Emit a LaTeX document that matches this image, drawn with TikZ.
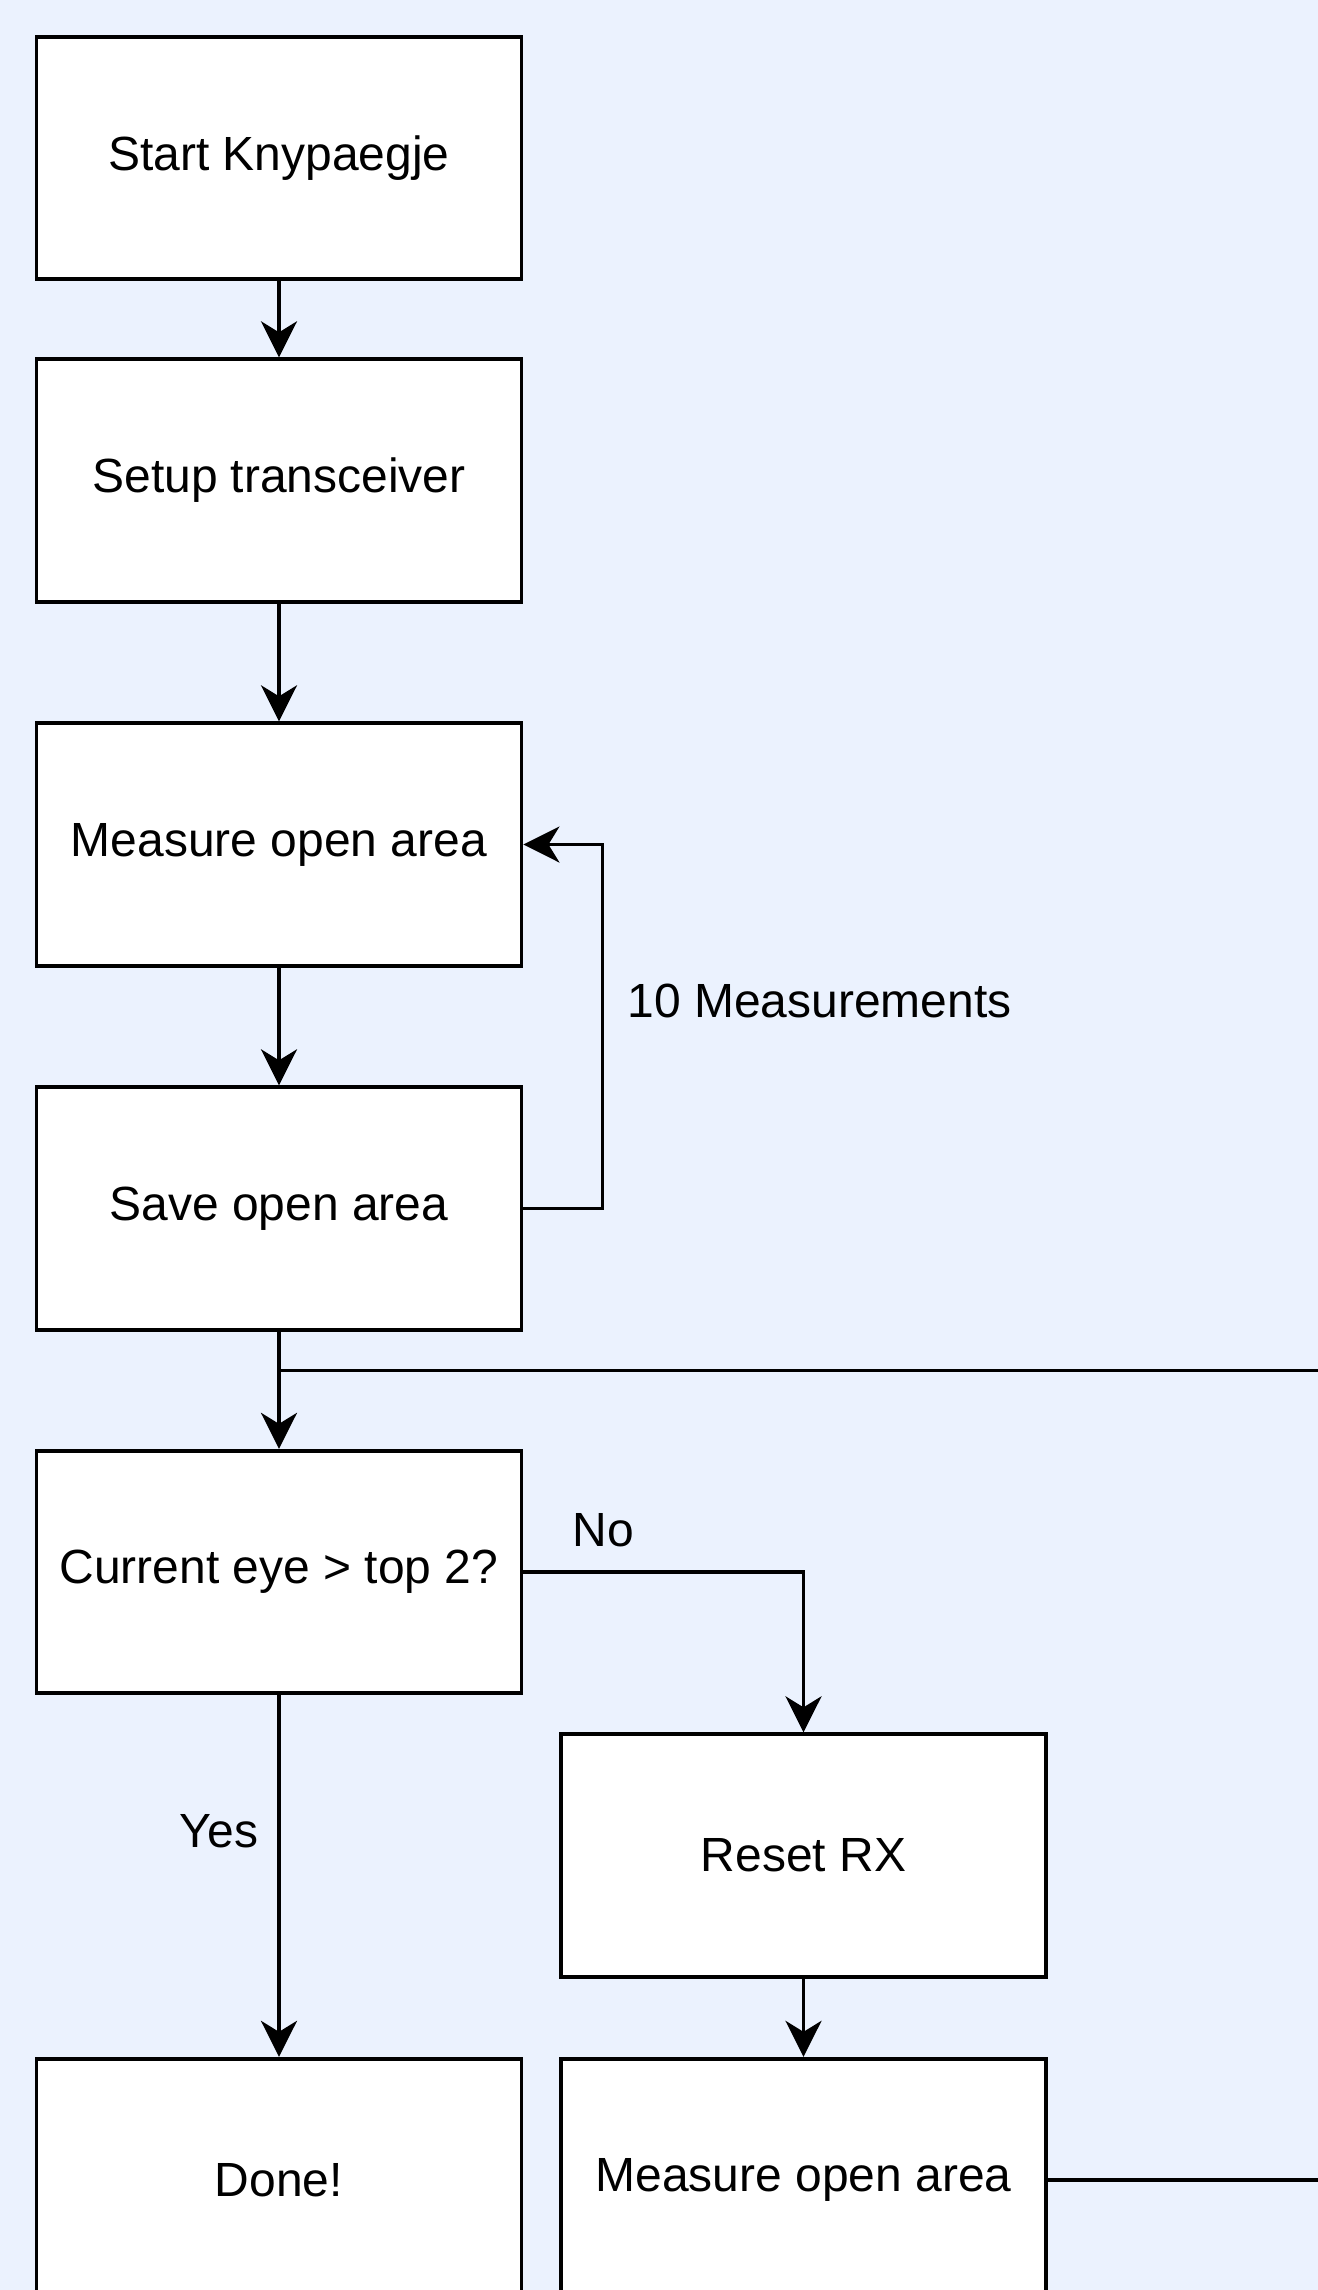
\documentclass[tikz,border=0pt]{standalone}
\usepackage{fontspec}
\setmainfont{Liberation Sans}
\usepackage{xcolor}
\usepackage{tikz}
\usetikzlibrary{arrows.meta}

\definecolor{bgblue}{RGB}{235,242,254}

\begin{document}
\begin{tikzpicture}[font=\fontsize{27.3}{33}\selectfont, >={Stealth[length=0.72cm,width=0.72cm,inset=0.22cm]},
        line width=2pt,
        stepbox/.style={draw, fill=white, line width=2.2pt, align=center, minimum width=9.7cm, minimum height=4.85cm}]
        \useasboundingbox (0,0) rectangle (26.36,-45.8);
        \fill[bgblue] (0,0) rectangle (26.36,-45.8);
        \node[stepbox] (start) at (5.58,-3.16) {Start Knypaegje};
        \node[stepbox] (setup) at (5.58,-9.61) {Setup transceiver};
        \node[stepbox] (meas) at (5.58,-16.89) {Measure open area};
        \node[stepbox] (save) at (5.58,-24.17) {Save open area};
        \node[stepbox] (cur) at (5.58,-31.44) {Current eye > top 2?};
        \node[stepbox] (reset) at (16.07,-37.11) {Reset RX};
        \node[stepbox] (done) at (5.58,-43.60) {Done!};
        \node[stepbox] (meastwo) at (16.07,-43.60) {Measure open area};
        \coordinate (merge) at (5.58,-27.41);
        \coordinate (mergeR) at (26.4,-27.41);
        \coordinate (meastwoR) at (26.4,-43.60);
        \draw[->] (start) -- (setup);
        \draw[->] (setup) -- (meas);
        \draw[->] (meas) -- (save);
        \draw[->] (save.east) -- ++(1.58,0) |- (meas.east);
        \draw[->] (save) -- (cur);
        \draw (merge) -- (mergeR);
        \draw[->] (cur.east) -| (reset.north);
        \draw[->] (cur) -- (done);
        \draw[->] (reset) -- (meastwo);
        \draw (meastwo.east) -- (meastwoR);
        \node[anchor=west] (lbl10) at (12.4,-20.02) {10 Measurements};
        \node[anchor=west] (lblno) at (11.3,-30.6) {No};
        \node (lblyes) at (4.38,-36.62) {Yes};
    \end{tikzpicture}
\end{document}
